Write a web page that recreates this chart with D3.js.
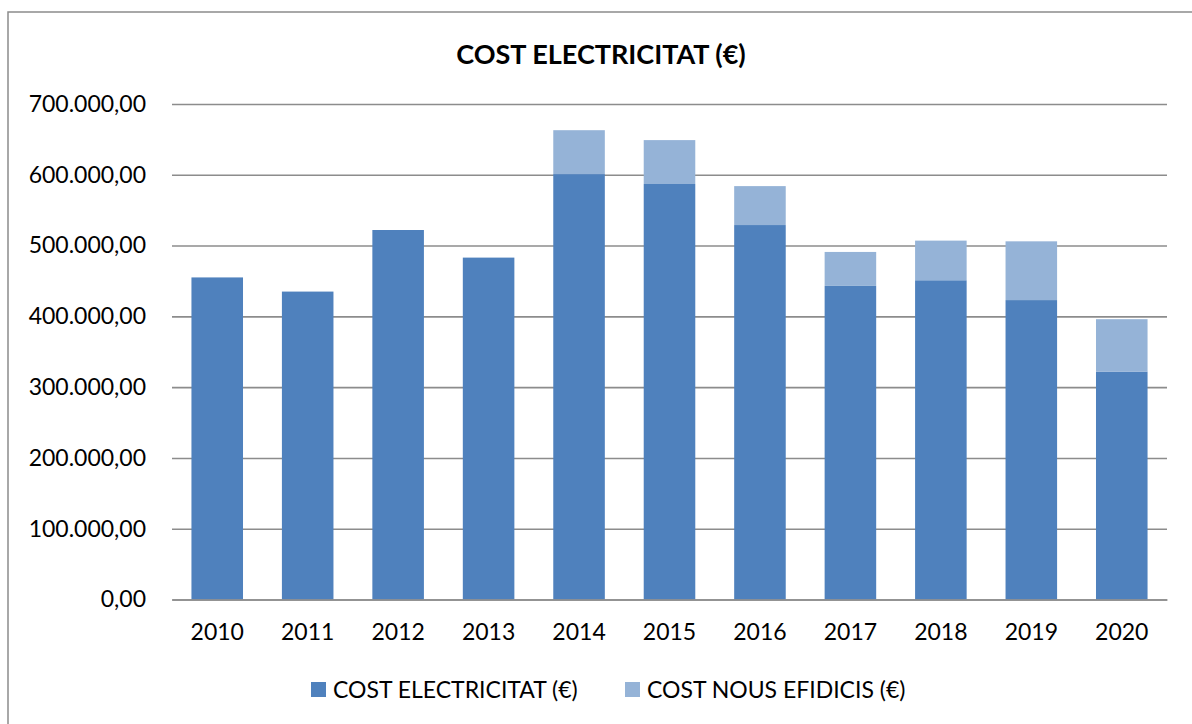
<!DOCTYPE html>
<html>
<head>
<meta charset="utf-8">
<script src="https://d3js.org/d3.v7.min.js"></script>
<style>
  body { margin: 0; background: #fff; }
  text { font-family: Lato, "Open Sans", sans-serif; fill: #000; }
  .grid line { stroke: #8c8c8c; stroke-width: 1.6; }
</style>
</head>
<body>
<div id="chart"></div>
<script>
// values
var years = ["2010", "2011", "2012", "2013", "2014", "2015", "2016", "2017", "2018", "2019", "2020"];
var costElectricitat = [455000, 435000, 522000, 483000, 601000, 587000, 529000, 443000, 451000, 423000, 322000];
var costNousEdificis = [0, 0, 0, 0, 62000, 62000, 55000, 48000, 56000, 83000, 74000];
var yTicks = [0, 100000, 200000, 300000, 400000, 500000, 600000, 700000];
var seriesNames = ["COST ELECTRICITAT (€)", "COST NOUS EFIDICIS (€)"];
var colors = ["#4f81bd", "#95b3d7"];

var W = 1192, H = 724;
var margin = {top: 104, right: 25, bottom: 124.5, left: 172};
var width = W - margin.left - margin.right,
    height = H - margin.top - margin.bottom;

var svg = d3.select("#chart").append("svg")
    .attr("width", W)
    .attr("height", H);

// outer frame
svg.append("rect")
    .attr("x", 8).attr("y", 12)
    .attr("width", W).attr("height", H)
    .attr("fill", "none")
    .attr("stroke", "#8c8c8c")
    .attr("stroke-width", 1.5);

svg.append("text")
    .attr("x", 601).attr("y", 64)
    .attr("text-anchor", "middle")
    .style("font-weight", "bold")
    .style("font-size", "27px")
    .text("COST ELECTRICITAT (€)");

var g = svg.append("g")
    .attr("transform", "translate(" + margin.left + "," + margin.top + ")");

var x = d3.scaleBand().domain(years).range([0, width]).paddingInner(0.43).paddingOuter(0.215);
var y = d3.scaleLinear().domain([0, 700000]).range([height, 0]);

var fmt = function(v) {
  return d3.format(",.2f")(v).replace(/,/g, "#").replace(".", ",").replace(/#/g, ".");
};

var grid = g.append("g").attr("class", "grid")
    .call(d3.axisLeft(y).tickValues(yTicks).tickSize(-width).tickFormat(fmt).tickPadding(26));
grid.select(".domain").remove();
grid.selectAll(".tick text").style("font-size", "23px").attr("fill", "#000");

var stack = d3.stack().keys([0, 1]).value(function(d, k) { return d[k]; });
var rows = years.map(function(yr, i) { return [costElectricitat[i], costNousEdificis[i]]; });
var layers = stack(rows);

g.selectAll(".layer")
    .data(layers)
    .enter().append("g")
    .attr("class", "layer")
    .attr("fill", function(d, i) { return colors[i]; })
  .selectAll("rect")
    .data(function(d) { return d; })
    .enter().append("rect")
    .attr("x", function(d, i) { return x(years[i]); })
    .attr("width", x.bandwidth())
    .attr("y", function(d) { return y(d[1]); })
    .attr("height", function(d) { return y(d[0]) - y(d[1]); });

var xa = g.append("g")
    .attr("transform", "translate(0," + height + ")")
    .call(d3.axisBottom(x).tickSize(0).tickPadding(24));
xa.select(".domain").attr("stroke", "#8c8c8c").attr("stroke-width", 1.6);
xa.selectAll(".tick text").style("font-size", "23px").attr("fill", "#000");

// legend
var legendX = [311, 625];
var legend = svg.selectAll(".legend")
    .data(seriesNames)
    .enter().append("g")
    .attr("class", "legend")
    .attr("transform", function(d, i) { return "translate(" + legendX[i] + ",682)"; });
legend.append("rect")
    .attr("width", 15).attr("height", 15)
    .attr("fill", function(d, i) { return colors[i]; });
legend.append("text")
    .attr("x", 22).attr("y", 16)
    .style("font-size", "23px")
    .text(function(d) { return d; });
</script>
</body>
</html>
